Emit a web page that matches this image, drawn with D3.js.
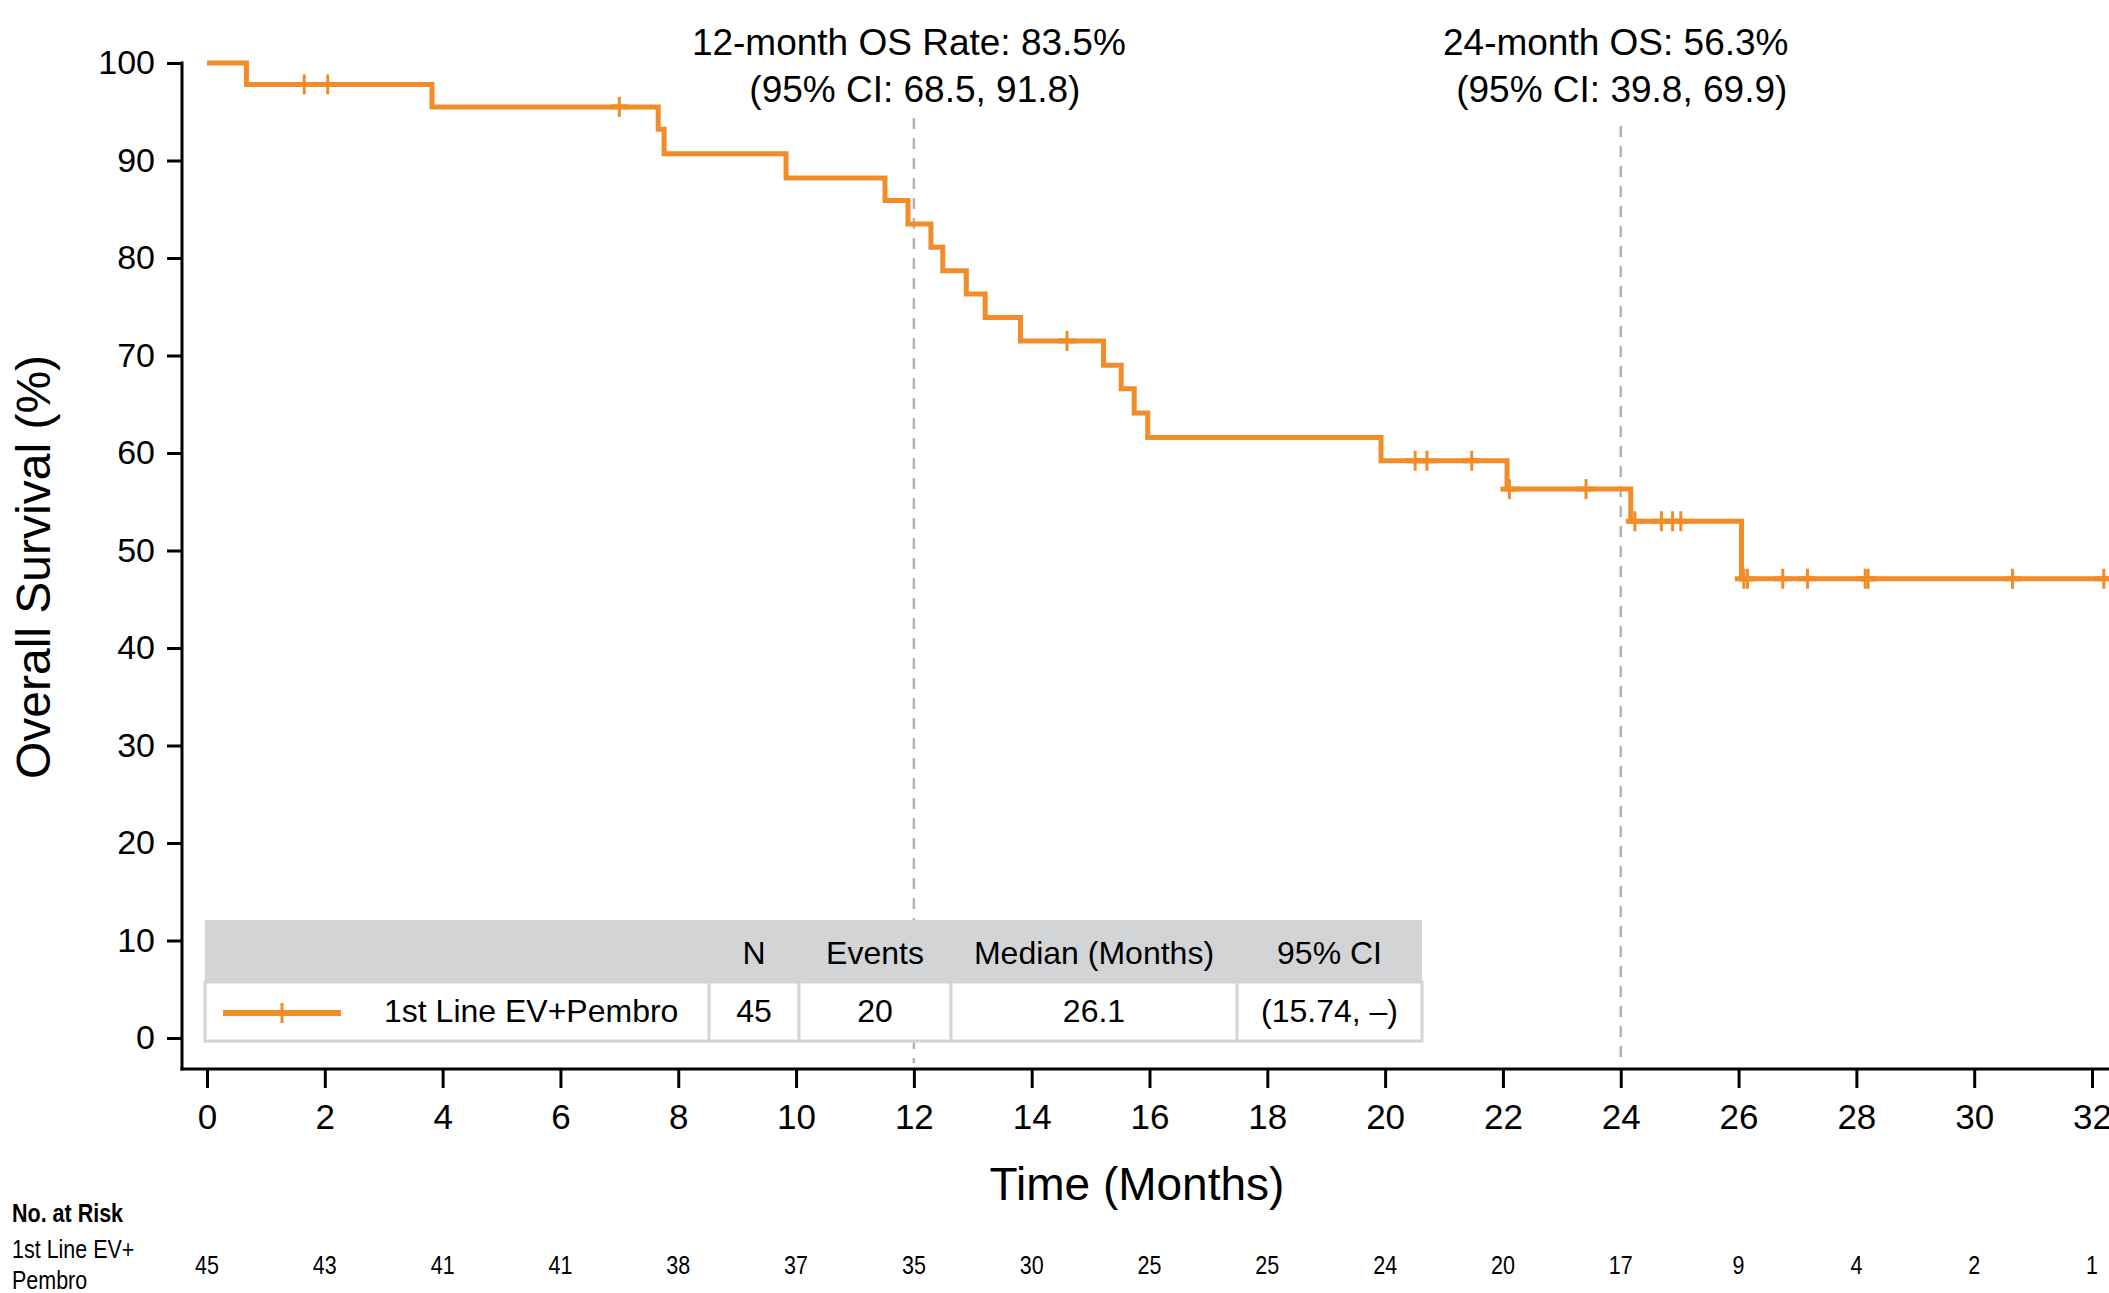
<!DOCTYPE html>
<html>
<head>
<meta charset="utf-8">
<script src="https://cdn.jsdelivr.net/npm/d3@7"></script>
<style>
  body { margin: 0; background: #fff; }
  svg { display: block; font-family: "Liberation Sans", Arial, sans-serif; }
</style>
</head>
<body>
<svg id="chart" width="2109" height="1293"></svg>
<script>
// KM curve
const eventTimes = [0.67, 3.82, 7.66, 7.76, 9.83, 11.51, 11.9, 12.29, 12.49, 12.89, 13.21, 13.81, 15.22, 15.52, 15.74, 15.97, 19.93, 22.07, 24.17, 26.05]
const survival = [97.8, 95.5, 93.2, 90.7, 88.2, 85.9, 83.5, 81.1, 78.7, 76.3, 73.9, 71.5, 69.0, 66.6, 64.1, 61.6, 59.2, 56.3, 53.0, 47.1]
const censorTimes = [1.65, 2.05, 7.0, 14.6, 20.51, 20.71, 21.47, 22.11, 23.41, 24.24, 24.69, 24.88, 25.02, 26.09, 26.15, 26.75, 27.17, 28.15, 28.2, 30.65, 32.2]
const lastTime = 32.35

const xTicks = d3.range(0, 33, 2)
const yTicks = d3.range(0, 101, 10)
const atRisk = [45, 43, 41, 41, 38, 37, 35, 30, 25, 25, 24, 20, 17, 9, 4, 2, 1]

const landmarks = [
  {month: 12, line1: "12-month OS Rate: 83.5%", line2: "(95% CI: 68.5, 91.8)", top: 118},
  {month: 24, line1: "24-month OS: 56.3%", line2: "(95% CI: 39.8, 69.9)", top: 126}
]

const tableHeader = ["", "N", "Events", "Median (Months)", "95% CI"]
const tableRow = ["1st Line EV+Pembro", "45", "20", "26.1", "(15.74, \u2013)"]

const ORANGE = "#F28C28"

const svg = d3.select("#chart")
svg.append("rect").attr("width", 2109).attr("height", 1293).attr("fill", "#fff")

const x = d3.scaleLinear().domain([0, 32]).range([207, 2092])
const y = d3.scaleLinear().domain([0, 100]).range([1038, 63])
const axisY = 1069, axisX = 182

// survival at time t (step function)
const survAt = t => {
  let s = 100
  eventTimes.forEach((e, i) => { if (e <= t) s = survival[i] })
  return s
}

// dashed landmark lines
landmarks.forEach(m => {
  svg.append("line")
    .attr("x1", x(m.month)).attr("x2", x(m.month))
    .attr("y1", m.top).attr("y2", axisY - 6)
    .attr("stroke", "#b3b3b3").attr("stroke-width", 2.5)
    .attr("stroke-dasharray", "11,9")
})

// y axis
const gy = svg.append("g")
  .attr("transform", "translate(" + axisX + ",0)")
  .call(d3.axisLeft(y).tickValues(yTicks).tickSize(15).tickPadding(12))
gy.select(".domain").remove()
gy.selectAll(".tick line").attr("stroke", "#000").attr("stroke-width", 3)
gy.selectAll(".tick text").attr("font-size", 34).attr("fill", "#000")
  .attr("font-family", "Liberation Sans, Arial, sans-serif")
svg.append("line").attr("x1", axisX).attr("x2", axisX)
  .attr("y1", y(100) - 1.5).attr("y2", axisY + 1.5)
  .attr("stroke", "#000").attr("stroke-width", 3)

// x axis
const gx = svg.append("g")
  .attr("transform", "translate(0," + axisY + ")")
  .call(d3.axisBottom(x).tickValues(xTicks).tickSize(19).tickPadding(16))
gx.select(".domain").remove()
gx.selectAll(".tick line").attr("stroke", "#000").attr("stroke-width", 3)
gx.selectAll(".tick text").attr("font-size", 35).attr("fill", "#000")
  .attr("font-family", "Liberation Sans, Arial, sans-serif")
svg.append("line").attr("x1", axisX - 1.5).attr("x2", 2109)
  .attr("y1", axisY).attr("y2", axisY)
  .attr("stroke", "#000").attr("stroke-width", 3)

// axis titles
svg.append("text")
  .attr("transform", "translate(50,567) rotate(-90)")
  .attr("text-anchor", "middle").attr("font-size", 48)
  .text("Overall Survival (%)")
svg.append("text")
  .attr("x", 1137).attr("y", 1200)
  .attr("text-anchor", "middle").attr("font-size", 46)
  .text("Time (Months)")

// KM step curve
const pts = [[0, 100]].concat(eventTimes.map((t, i) => [t, survival[i]]))
pts.push([lastTime, survival[survival.length - 1]])
const line = d3.line().x(d => x(d[0])).y(d => y(d[1])).curve(d3.curveStepAfter)
svg.append("path")
  .attr("d", line(pts))
  .attr("fill", "none").attr("stroke", ORANGE)
  .attr("stroke-width", 5).attr("stroke-linejoin", "miter")

// censor marks
const cens = svg.append("g").attr("stroke", ORANGE).attr("stroke-width", 3)
censorTimes.forEach(t => {
  const cx = x(t), cy = y(survAt(t))
  cens.append("line").attr("x1", cx).attr("x2", cx).attr("y1", cy - 10).attr("y2", cy + 10)
  cens.append("line").attr("x1", cx - 9).attr("x2", cx + 9).attr("y1", cy).attr("y2", cy)
    .attr("stroke-width", 5)
})

// landmark annotations
landmarks.forEach(m => {
  svg.append("text").attr("x", x(m.month) - 5).attr("y", 55)
    .attr("text-anchor", "middle").attr("font-size", 37).text(m.line1)
  svg.append("text").attr("x", x(m.month) + 1).attr("y", 102)
    .attr("text-anchor", "middle").attr("font-size", 37).text(m.line2)
})

// summary table
const colEdges = [205, 709, 799, 951, 1237, 1422]
const hTop = 920, hBot = 982, rBot = 1041
svg.append("rect").attr("x", colEdges[0]).attr("y", hTop)
  .attr("width", colEdges[5] - colEdges[0]).attr("height", hBot - hTop)
  .attr("fill", "#d3d4d6")
svg.append("rect").attr("x", colEdges[0]).attr("y", hBot)
  .attr("width", colEdges[5] - colEdges[0]).attr("height", rBot - hBot)
  .attr("fill", "#fff").attr("stroke", "#d3d4d6").attr("stroke-width", 3)
colEdges.slice(1, 5).forEach(e => {
  svg.append("line").attr("x1", e).attr("x2", e).attr("y1", hBot).attr("y2", rBot)
    .attr("stroke", "#d3d4d6").attr("stroke-width", 3)
})
tableHeader.forEach((h, i) => {
  if (!h) return
  svg.append("text").attr("x", (colEdges[i] + colEdges[i + 1]) / 2).attr("y", 964)
    .attr("text-anchor", "middle").attr("font-size", 32).text(h)
})
tableRow.forEach((v, i) => {
  if (i === 0) {
    svg.append("text").attr("x", 384).attr("y", 1022).attr("font-size", 32).text(v)
    return
  }
  svg.append("text").attr("x", (colEdges[i] + colEdges[i + 1]) / 2).attr("y", 1022)
    .attr("text-anchor", "middle").attr("font-size", 32).text(v)
})
// legend swatch
svg.append("line").attr("x1", 223).attr("x2", 341).attr("y1", 1013).attr("y2", 1013)
  .attr("stroke", ORANGE).attr("stroke-width", 6)
svg.append("line").attr("x1", 282).attr("x2", 282).attr("y1", 1003).attr("y2", 1023)
  .attr("stroke", ORANGE).attr("stroke-width", 3)

// number at risk
const narrow = (sel, tx, ty) => sel.attr("transform", "translate(" + tx + "," + ty + ") scale(0.86,1)")
narrow(svg.append("text").attr("font-size", 25).attr("font-weight", "bold").text("No. at Risk"), 12, 1222)
narrow(svg.append("text").attr("font-size", 25).text("1st Line EV+"), 12, 1258)
narrow(svg.append("text").attr("font-size", 25).text("Pembro"), 12, 1289)
atRisk.forEach((n, i) => {
  narrow(svg.append("text").attr("font-size", 25).attr("text-anchor", "middle").text(n), x(xTicks[i]), 1274)
})
</script>
</body>
</html>
